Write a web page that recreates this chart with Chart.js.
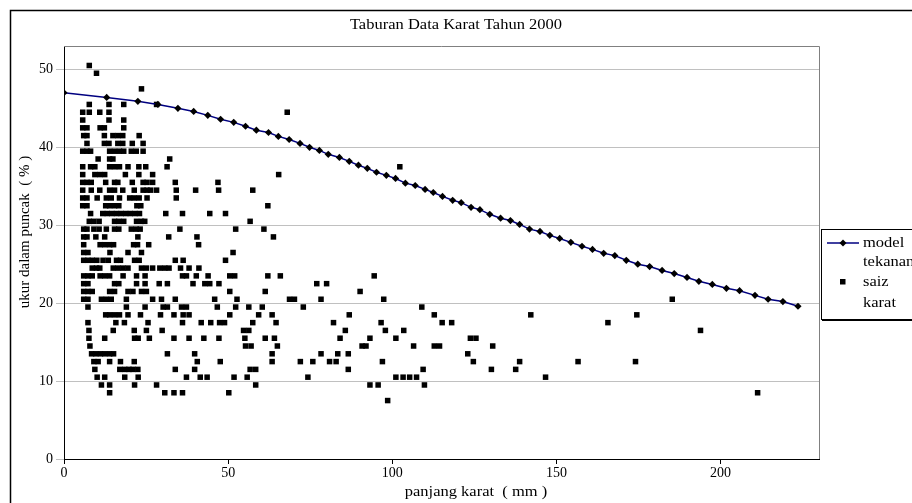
<!DOCTYPE html>
<html>
<head>
<meta charset="utf-8">
<script src="https://cdn.jsdelivr.net/npm/chart.js@4"></script>
<style>
  html, body { margin: 0; padding: 0; background: #fff; }
  canvas { display: block; }
</style>
</head>
<body>
<canvas id="karatChart" width="912" height="503"></canvas>
<script>
// model tekanan (diamonds joined by a line)
const modelPanjang = [0, 13, 22.5, 28.6, 34.7, 39.5, 43.8, 47.7, 51.7, 55.3, 58.6, 62.3, 65.3, 68.6,
  71.9, 74.8, 77.8, 80.5, 83.9, 86.9, 89.7, 92.4, 95.2, 98.2, 101, 104, 107, 110, 112.5, 115.3,
  118.4, 121, 124, 126.7, 129.7, 133, 136, 138.8, 141.8, 145, 148, 151, 154.4, 157.8, 161, 164.4,
  167.8, 171.3, 174.8, 178.4, 182.2, 185.9, 189.8, 193.4, 197.5, 201.8, 205.8, 210.5, 214.5, 219, 223.6];
const modelUkur = [47.0, 46.4, 45.9, 45.5, 45.0, 44.6, 44.1, 43.6, 43.2, 42.7, 42.2, 41.9, 41.4, 41.0,
  40.5, 40.0, 39.6, 39.1, 38.7, 38.2, 37.7, 37.3, 36.8, 36.4, 36.0, 35.4, 35.1, 34.6, 34.2, 33.7,
  33.2, 32.9, 32.3, 32.0, 31.4, 30.9, 30.6, 30.1, 29.5, 29.2, 28.7, 28.3, 27.8, 27.3, 26.9, 26.4,
  26.1, 25.5, 25.0, 24.7, 24.2, 23.8, 23.3, 22.8, 22.4, 21.9, 21.6, 21.0, 20.5, 20.2, 19.6];

// saiz karat: one row per ukur value, panjang values in each row
const saizUkur = [50.5, 49.5, 47.5, 45.5, 44.5, 43.5, 42.5, 41.5, 40.5, 39.5, 38.5, 37.5, 36.5, 35.5,
  34.5, 33.5, 32.5, 31.5, 30.5, 29.5, 28.5, 27.5, 26.5, 25.5, 24.5, 23.5, 22.5, 21.5, 20.5, 19.5,
  18.5, 17.5, 16.5, 15.5, 14.5, 13.5, 12.5, 11.5, 10.5, 9.5, 8.5, 7.5];
const saizPanjang = [
  [7.7],
  [9.9],
  [23.6],
  [7.7, 13.7, 18.2, 28.2],
  [5.7, 7.7, 10.9, 13.7, 68],
  [5.7, 13.7, 18.2],
  [5.7, 7, 11, 12.3, 18.2],
  [6, 7, 12.3, 14.9, 16.4, 17.9, 22.9],
  [7, 12.3, 13.7, 16.4, 17.9, 20.8, 24.1],
  [5.7, 7, 8.1, 13.9, 15.4, 16.9, 18.2, 20.5, 22, 24.1],
  [10.4, 13.9, 14.9, 32.2],
  [5.7, 8.1, 9.4, 13.9, 15.4, 16.9, 19.5, 22.8, 24.9, 31.4, 102.3],
  [5.7, 9.4, 10.9, 12.4, 18.7, 22.8, 27, 65.4],
  [5.7, 7, 8.3, 12.7, 15.4, 16.4, 20.8, 24.1, 25.3, 27, 33.9, 46.9],
  [5.7, 8.3, 10.9, 13.9, 15.4, 17.9, 21.4, 24.1, 25.3, 26.4, 28.2, 34.2, 40.1, 47.1, 57.5],
  [5.7, 7, 10.1, 12.9, 14.4, 16.9, 20, 21.4, 22.9, 25.3, 34.2],
  [5.7, 7, 12.7, 13.9, 15.4, 16.7, 22.2, 23.4, 62.1],
  [8.1, 11.8, 13.2, 14.6, 16, 17.4, 18.8, 20.2, 21.6, 23, 31, 36.1, 44.4, 49.2],
  [7.7, 9.1, 10.7, 15.4, 16.7, 18.2, 22.1, 23.6, 24.6, 56.7],
  [6, 7, 9.1, 10.7, 12.9, 15.4, 16.7, 20.5, 22, 23.2, 35.3, 52.3, 60.9],
  [6, 7, 9.7, 12.4, 22.5, 31.9, 40.5, 63.8],
  [6, 11, 12.4, 13.9, 15.1, 21.2, 22.4, 25.8, 41],
  [6, 7.3, 14, 19.5, 23.6, 51.5],
  [6, 7.3, 8.6, 10, 11.9, 13.5, 16, 17.2, 21.5, 22.9, 33.9, 36.3, 49.2],
  [8.6, 9.9, 10.9, 15, 16.5, 18, 19.5, 23.6, 25.1, 27, 29.2, 30.7, 32, 35.5, 38.1, 41.1],
  [6, 7.3, 8.6, 11, 12.4, 13.9, 18, 22.1, 24.7, 36.1, 37.3, 40.3, 43.9, 50.5, 52, 62.1, 65.9, 94.5],
  [6, 7.3, 15.4, 16.7, 22.1, 24.7, 29, 31.5, 39.3, 42.9, 44.4, 47.2, 77, 80],
  [6, 7.3, 8.6, 13.9, 15.4, 19.5, 21, 23.6, 25.1, 50.5, 61.3, 90.2],
  [6, 7.3, 11.4, 12.9, 14.4, 19, 27, 29.7, 33.9, 45.9, 52.7, 68.7, 70.2, 78.3, 97.4, 185.3],
  [7.3, 19, 24.7, 30.2, 31.5, 35.8, 37.3, 46.7, 52.3, 56.3, 60.4, 72.9, 109],
  [12.7, 13.9, 15.4, 16.9, 19.5, 23.3, 29.4, 33.5, 36.3, 38.1, 50.5, 59.3, 63.4, 86.9, 112.8, 142.2, 174.5],
  [7.3, 15.8, 18.4, 25.6, 36.1, 41.8, 44.7, 47.4, 48.9, 57.5, 64.6, 82.1, 96.6, 115.2, 118.1, 165.7],
  [7.6, 15, 21.4, 25.1, 29.9, 54.7, 56.3, 85.7, 97.9, 103.5, 193.9],
  [7.6, 12.4, 21.5, 22.6, 26, 33.5, 38.1, 42.6, 47.2, 55.1, 61.3, 64.1, 84.1, 93.2, 101.1, 123.8, 125.5],
  [7.9, 55.3, 57, 65, 90.8, 92, 106.5, 112.8, 114.4, 130.6],
  [8.4, 9.7, 11.1, 12.4, 13.9, 15.1, 31.5, 39.8, 63.4, 78.3, 83.4, 86.6, 123],
  [9.1, 10.4, 13.9, 17.2, 21.4, 40.6, 47.6, 63.4, 72, 75.8, 80.9, 82.9, 97, 124.7, 138.8, 156.6, 174.1],
  [9.4, 17, 18.5, 19.8, 21, 22.5, 33.9, 39.8, 56.7, 58.4, 86.6, 109.4, 130.2, 137.6],
  [10.1, 12.4, 18.5, 22.6, 37.3, 41.5, 43.6, 51.8, 55.8, 74.3, 101.1, 103.3, 105.3, 107.4, 146.7],
  [11.4, 13.9, 21.5, 28.2, 58.4, 93.2, 95.7, 109.8],
  [13.9, 30.7, 33.5, 36.1, 50.2, 211.3],
  [98.6]
];

const xTicks = [0, 50, 100, 150, 200];
const yTicks = [0, 10, 20, 30, 40, 50];

const chartTitle = "Taburan Data Karat Tahun 2000";
const xTitle = "panjang karat  ( mm )";
const yTitle = "ukur dalam puncak  ( % )";
const legendLabels = [["model", "tekanan"], ["saiz", "karat"]];

const serif = "'Liberation Serif', 'Times New Roman', serif";

const modelPoints = modelPanjang.map((x, i) => ({ x: x, y: modelUkur[i] }));
const saizPoints = [];
saizUkur.forEach((y, i) => {
  saizPanjang[i].forEach((x) => saizPoints.push({ x: x, y: y }));
});

// text a little wider than tall, like the original picture
function wideText(ctx, text, x, y, align) {
  ctx.save();
  ctx.translate(x, y);
  ctx.scale(1.1, 1);
  ctx.textAlign = align;
  ctx.fillText(text, 0, 0);
  ctx.restore();
}

// frame, titles and legend box drawn on top like the spreadsheet chart
const framePlugin = {
  id: "frame",
  afterDraw(chart) {
    const ctx = chart.ctx;
    const a = chart.chartArea;
    ctx.save();
    // outer chart border
    ctx.strokeStyle = "#000";
    ctx.lineWidth = 1.5;
    ctx.strokeRect(10.5, 10.5, 1000, 1000);
    // plot area top and right edge
    ctx.strokeStyle = "#808080";
    ctx.lineWidth = 1;
    ctx.beginPath();
    ctx.moveTo(a.left, a.top + 0.5);
    ctx.lineTo(a.right + 0.5, a.top + 0.5);
    ctx.lineTo(a.right + 0.5, a.bottom);
    ctx.stroke();

    ctx.fillStyle = "#000";
    ctx.textBaseline = "middle";
    ctx.font = "15px " + serif;
    wideText(ctx, chartTitle, 456, 25, "center");
    wideText(ctx, xTitle, 476, 492, "center");
    ctx.save();
    ctx.translate(25, 232);
    ctx.rotate(-Math.PI / 2);
    ctx.textAlign = "center";
    ctx.fillText(yTitle, 0, 0);
    ctx.restore();

    // legend
    const lx = 821, ly = 229;
    ctx.fillStyle = "#fff";
    ctx.fillRect(lx, ly, 100, 90);
    ctx.strokeStyle = "#000";
    ctx.lineWidth = 1;
    ctx.strokeRect(lx + 0.5, ly + 0.5, 100, 90);
    ctx.beginPath();
    ctx.moveTo(lx + 1, ly + 91.5);
    ctx.lineTo(lx + 102, ly + 91.5);
    ctx.stroke();

    ctx.strokeStyle = "#000080";
    ctx.lineWidth = 1.5;
    ctx.beginPath();
    ctx.moveTo(827, 243);
    ctx.lineTo(859, 243);
    ctx.stroke();
    ctx.fillStyle = "#000";
    ctx.beginPath();
    ctx.moveTo(843 - 3.5, 243);
    ctx.lineTo(843, 243 - 3.5);
    ctx.lineTo(843 + 3.5, 243);
    ctx.lineTo(843, 243 + 3.5);
    ctx.closePath();
    ctx.fill();
    ctx.fillRect(840, 279, 5.5, 5.5);

    ctx.font = "15px " + serif;
    wideText(ctx, legendLabels[0][0], 863, 243, "left");
    wideText(ctx, legendLabels[0][1], 863, 262, "left");
    wideText(ctx, legendLabels[1][0], 863, 282, "left");
    wideText(ctx, legendLabels[1][1], 863, 303, "left");
    ctx.restore();
  },
};

const karat_ctx = document.getElementById("karatChart").getContext("2d");

const karat_chart = new Chart(karat_ctx, {
  type: "scatter",
  data: {
    datasets: [
      {
        label: "saiz karat",
        data: saizPoints,
        pointStyle: "rect",
        pointRadius: 3.9,
        pointBackgroundColor: "#000",
        pointBorderColor: "#000",
        pointBorderWidth: 0,
        order: 2,
      },
      {
        label: "model tekanan",
        data: modelPoints,
        showLine: true,
        borderColor: "#000080",
        borderWidth: 1.5,
        pointStyle: "rectRot",
        pointRadius: 3.6,
        pointBackgroundColor: "#000",
        pointBorderColor: "#000",
        pointBorderWidth: 0,
        order: 1,
      },
    ],
  },
  options: {
    responsive: false,
    animation: false,
    devicePixelRatio: 1,
    layout: { padding: { left: 0, right: 93, top: 46, bottom: 0 } },
    plugins: {
      legend: { display: false },
      title: { display: false },
      tooltip: { enabled: false },
    },
    scales: {
      x: {
        type: "linear",
        min: 0,
        max: 230,
        afterFit: (scale) => { scale.height = 44; },
        afterBuildTicks: (scale) => { scale.ticks = xTicks.map((v) => ({ value: v })); },
        ticks: {
          autoSkip: false,
          maxRotation: 0,
          padding: 1,
          color: "#000",
          font: { family: serif, size: 14 },
        },
        grid: { drawOnChartArea: false, drawTicks: true, tickLength: 5, color: "#000" },
        border: { color: "#000", width: 1 },
      },
      y: {
        min: 0,
        max: 53,
        afterFit: (scale) => { scale.width = 64; },
        afterBuildTicks: (scale) => { scale.ticks = yTicks.map((v) => ({ value: v })); },
        ticks: {
          padding: 3,
          color: "#000",
          font: { family: serif, size: 14 },
        },
        grid: { color: "#c0c0c0", tickLength: 8 },
        border: { color: "#000", width: 1 },
      },
    },
  },
  plugins: [framePlugin],
});
</script>
</body>
</html>
